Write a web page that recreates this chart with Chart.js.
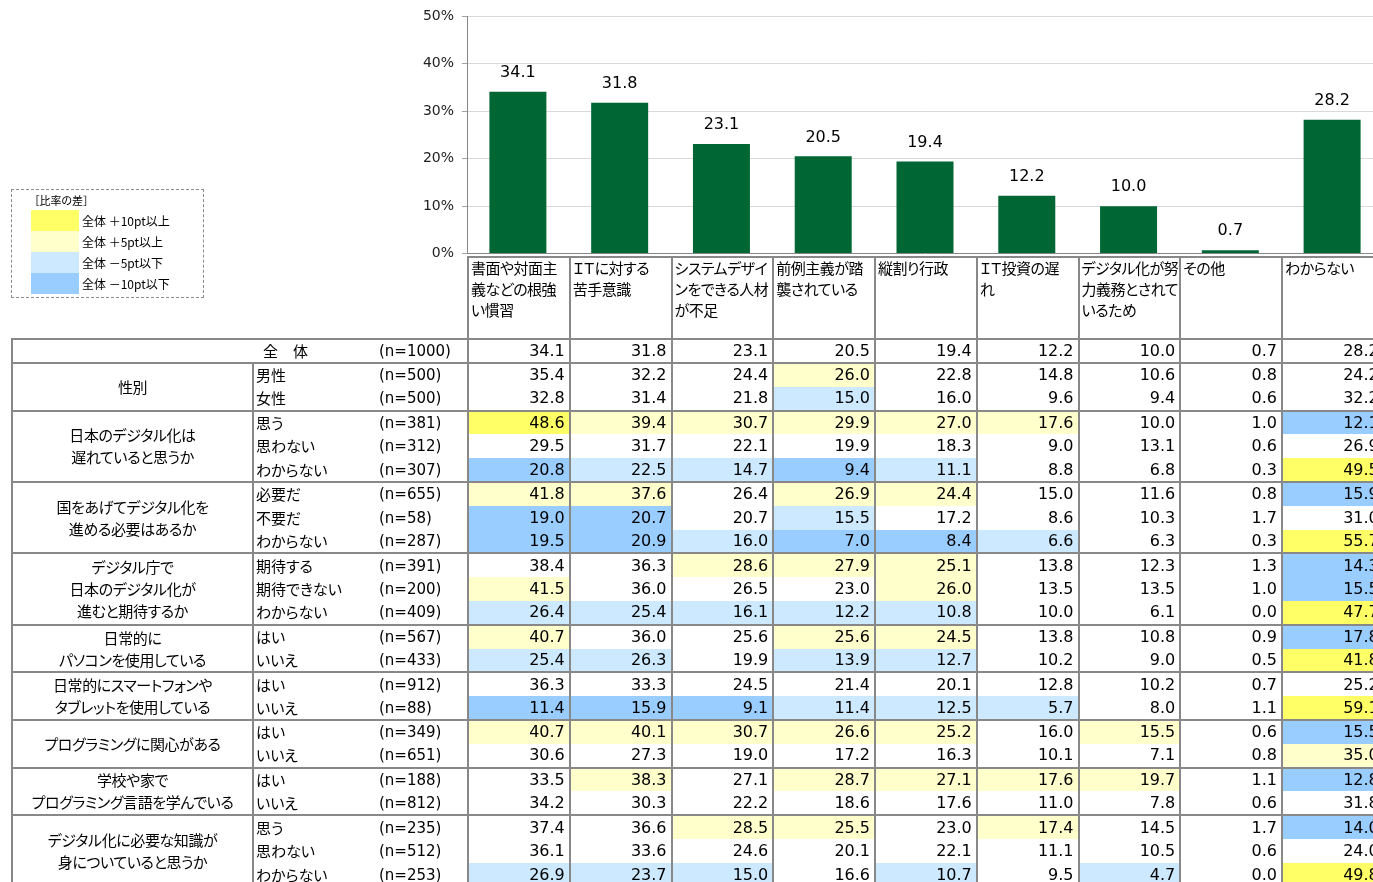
<!DOCTYPE html>
<html><head><meta charset="utf-8">
<script src="https://cdn.jsdelivr.net/npm/chart.js@4.4.1/dist/chart.umd.min.js"></script>
<style>
html,body{margin:0;padding:0;background:#fff;}
body{width:1373px;height:882px;overflow:hidden;position:relative;}
#c{position:absolute;left:0;top:0;}
#legendBox{position:absolute;left:11px;top:189px;width:191px;height:107px;border:1px dashed #8a8a8a;font-family:"Noto Sans CJK JP",sans-serif;font-feature-settings:"palt";color:#000;}
#legendBox .ttl{position:absolute;left:22px;top:3px;font-size:11px;line-height:14px;}
#legendBox .sw{position:absolute;left:19px;width:48px;height:21px;}
#legendBox .lt{position:absolute;left:70px;font-size:12px;line-height:21px;white-space:nowrap;}
table{position:absolute;left:11px;top:256px;border-collapse:collapse;table-layout:fixed;width:1372px;}
td{padding:0;border:none;white-space:nowrap;overflow:hidden;}
.jp{font-family:"Noto Sans CJK JP",sans-serif;font-feature-settings:"palt";font-size:15px;color:#000;}
.hd{vertical-align:top;border:2px solid #888;line-height:21px;padding:0 0 0 2px;letter-spacing:-0.5px;}
.hd div{margin-top:-1px;}
.num{font-family:"DejaVu Sans",sans-serif;font-size:16px;text-align:right;padding-right:4px;border-left:2px solid #888;border-right:2px solid #888;color:#000;line-height:22px;}
.n{font-family:"DejaVu Sans",sans-serif;font-size:15px;padding-left:3px;color:#000;line-height:22px;}
.sub{padding-left:2px;line-height:22px;border-left:2px solid #888;}
.grp{text-align:center;vertical-align:middle;border-left:2px solid #888;border-right:2px solid #888;line-height:22px;letter-spacing:-0.4px;}
.tot{text-align:right;padding-right:68px;border-left:2px solid #888;line-height:22px;}
tr.first td{border-top:2px solid #888;}
tr.dr{height:23.8px;}
</style>
</head><body>
<canvas id="c" width="1383" height="270"></canvas>
<div id="legendBox"></div>
<table id="tbl"></table>
<script>
// ---- data ----
const categories = [
  ["書面や対面主","義などの根強","い慣習"],
  ["ＩＴに対する","苦手意識"],
  ["システムデザイ","ンをできる人材","が不足"],
  ["前例主義が踏","襲されている"],
  ["縦割り行政"],
  ["ＩＴ投資の遅","れ"],
  ["デジタル化が努","力義務とされて","いるため"],
  ["その他"],
  ["わからない"]
];
const overallLabel = "全　体";
const overallN = 1000;
const overall = [34.1, 31.8, 23.1, 20.5, 19.4, 12.2, 10.0, 0.7, 28.2];

const groupTitles = [
  ["性別"],
  ["日本のデジタル化は","遅れていると思うか"],
  ["国をあげてデジタル化を","進める必要はあるか"],
  ["デジタル庁で","日本のデジタル化が","進むと期待するか"],
  ["日常的に","パソコンを使用している"],
  ["日常的にスマートフォンや","タブレットを使用している"],
  ["プログラミングに関心がある"],
  ["学校や家で","プログラミング言語を学んでいる"],
  ["デジタル化に必要な知識が","身についていると思うか"]
];
const groupSizes = [2, 3, 3, 3, 2, 2, 2, 2, 3];
const rowLabels = [
  "男性","女性",
  "思う","思わない","わからない",
  "必要だ","不要だ","わからない",
  "期待する","期待できない","わからない",
  "はい","いいえ",
  "はい","いいえ",
  "はい","いいえ",
  "はい","いいえ",
  "思う","思わない","わからない"
];
const rowN = [500,500, 381,312,307, 655,58,287, 391,200,409, 567,433, 912,88, 349,651, 188,812, 235,512,253];
const rowValues = [
  [35.4,32.2,24.4,26.0,22.8,14.8,10.6,0.8,24.2],
  [32.8,31.4,21.8,15.0,16.0,9.6,9.4,0.6,32.2],
  [48.6,39.4,30.7,29.9,27.0,17.6,10.0,1.0,12.1],
  [29.5,31.7,22.1,19.9,18.3,9.0,13.1,0.6,26.9],
  [20.8,22.5,14.7,9.4,11.1,8.8,6.8,0.3,49.5],
  [41.8,37.6,26.4,26.9,24.4,15.0,11.6,0.8,15.9],
  [19.0,20.7,20.7,15.5,17.2,8.6,10.3,1.7,31.0],
  [19.5,20.9,16.0,7.0,8.4,6.6,6.3,0.3,55.7],
  [38.4,36.3,28.6,27.9,25.1,13.8,12.3,1.3,14.3],
  [41.5,36.0,26.5,23.0,26.0,13.5,13.5,1.0,15.5],
  [26.4,25.4,16.1,12.2,10.8,10.0,6.1,0.0,47.7],
  [40.7,36.0,25.6,25.6,24.5,13.8,10.8,0.9,17.8],
  [25.4,26.3,19.9,13.9,12.7,10.2,9.0,0.5,41.8],
  [36.3,33.3,24.5,21.4,20.1,12.8,10.2,0.7,25.2],
  [11.4,15.9,9.1,11.4,12.5,5.7,8.0,1.1,59.1],
  [40.7,40.1,30.7,26.6,25.2,16.0,15.5,0.6,15.5],
  [30.6,27.3,19.0,17.2,16.3,10.1,7.1,0.8,35.0],
  [33.5,38.3,27.1,28.7,27.1,17.6,19.7,1.1,12.8],
  [34.2,30.3,22.2,18.6,17.6,11.0,7.8,0.6,31.8],
  [37.4,36.6,28.5,25.5,23.0,17.4,14.5,1.7,14.0],
  [36.1,33.6,24.6,20.1,22.1,11.1,10.5,0.6,24.0],
  [26.9,23.7,15.0,16.6,10.7,9.5,4.7,0.0,49.8]
];
const legendTitle = "［比率の差］";
const legendLabels = ["全体 ＋10pt以上","全体 ＋5pt以上","全体 －5pt以下","全体 －10pt以下"];
const legendThresholds = [10, 5, -5, -10];

// ---- styles ----
const diffColors = ["#ffff66","#ffffcc","#cce9ff","#99ccff"];
function cellColor(v, base){
  const d = Math.round((v - base)*10)/10;
  if (d >= legendThresholds[0]) return diffColors[0];
  if (d >= legendThresholds[1]) return diffColors[1];
  if (d <= legendThresholds[3]) return diffColors[3];
  if (d <= legendThresholds[2]) return diffColors[2];
  return "";
}

// legend
const lb = document.getElementById('legendBox');
let lh = '<div class="ttl">'+legendTitle+'</div>';
const swTops = [20, 41, 62, 83];
legendLabels.forEach((t,i)=>{
  lh += '<div class="sw" style="top:'+swTops[i]+'px;background:'+diffColors[i]+'"></div>';
  lh += '<div class="lt" style="top:'+swTops[i]+'px">'+t+'</div>';
});
lb.innerHTML = lh;

// table
const colW = [241, 123, 92].concat(categories.map(()=>101.75));
let h = '<colgroup>' + colW.map(w=>'<col style="width:'+w+'px">').join('') + '</colgroup>';
h += '<tr style="height:82px"><td colspan="3"></td>' + categories.map(c=>'<td class="hd jp"><div>'+c.join('<br>')+'</div></td>').join('') + '</tr>';
function dataCells(vals, colored){
  return vals.map((v,j)=>{
    const bg = colored ? cellColor(v, overall[j]) : "";
    return '<td class="num"'+(bg?' style="background:'+bg+'"':'')+'>'+v.toFixed(1)+'</td>';
  }).join('');
}
h += '<tr class="dr first"><td colspan="2" class="tot jp">'+overallLabel+'</td><td class="n">(n='+overallN+')</td>'+dataCells(overall,false)+'</tr>';
let r = 0;
groupTitles.forEach((g,gi)=>{
  for (let k=0;k<groupSizes[gi];k++){
    h += '<tr class="dr'+(k===0?' first':'')+'">';
    if (k===0) h += '<td class="grp jp" rowspan="'+groupSizes[gi]+'">'+g.join('<br>')+'</td>';
    h += '<td class="sub jp">'+rowLabels[r]+'</td><td class="n">(n='+rowN[r]+')</td>'+dataCells(rowValues[r],true)+'</tr>';
    r++;
  }
});
document.getElementById('tbl').innerHTML = h;

// chart
const barLabels = {
  id:'barLabels',
  afterDatasetsDraw(chart){
    const ctx = chart.ctx, meta = chart.getDatasetMeta(0);
    ctx.save();
    ctx.font = '16px "DejaVu Sans"';
    ctx.fillStyle = '#000';
    ctx.textAlign = 'center';
    ctx.textBaseline = 'middle';
    meta.data.forEach((bar,i)=>{ ctx.fillText(overall[i].toFixed(1), bar.x, bar.y - 19); });
    ctx.restore();
  }
};
new Chart(document.getElementById('c'), {
  type:'bar',
  data:{
    labels: categories.map(c=>c.join('')),
    datasets:[{data: overall, backgroundColor:'#006633', barPercentage:0.7, categoryPercentage:0.8}]
  },
  options:{
    responsive:false, animation:false, devicePixelRatio:1,
    layout:{padding:{top:11,bottom:0,left:0,right:0}},
    plugins:{legend:{display:false}, tooltip:{enabled:false}},
    scales:{
      x:{display:false},
      y:{
        min:0, max:50,
        ticks:{stepSize:10, callback:v=>v+'%', font:{family:'DejaVu Sans', size:14}, color:'#222', padding:8},
        grid:{color:c=>c.tick && c.tick.value===0 ? '#868686' : '#d9d9d9', tickLength:5, tickColor:'#a0a0a0'},
        border:{color:'#868686', width:1},
        afterFit(s){ s.width = 467; }
      }
    }
  },
  plugins:[barLabels]
});
</script>
</body></html>
